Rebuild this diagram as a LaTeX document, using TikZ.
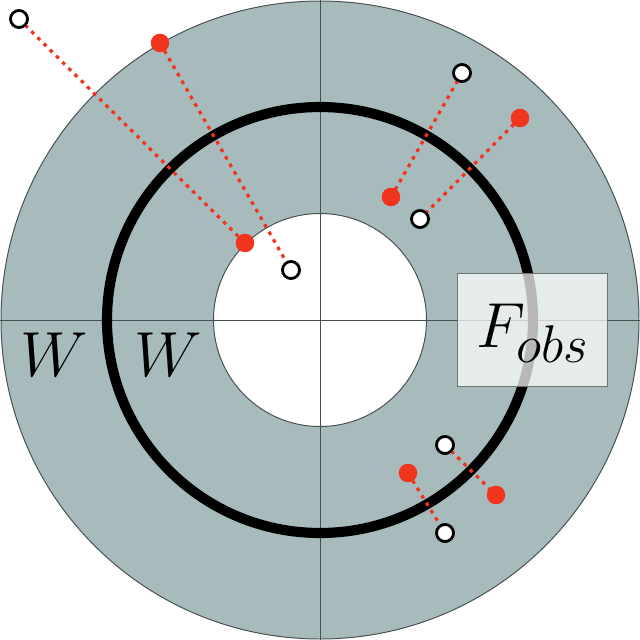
\documentclass[tikz,border=0pt]{standalone}
\usetikzlibrary{calc}
\definecolor{ringgray}{RGB}{168,187,188}
\definecolor{edgegray}{RGB}{70,80,80}
\definecolor{dotred}{RGB}{240,52,30}
\newcommand{\bigmath}[1]{\scalebox{1.82}{\Huge$#1$}}
\begin{document}
\begin{tikzpicture}[x=0.025cm,y=-0.025cm,
  opendot/.style={circle,draw=black,fill=white,line width=1.9pt,minimum size=12pt,inner sep=0pt},
  reddot/.style={circle,fill=dotred,minimum size=13pt,inner sep=0pt},
  link/.style={dotred,line width=2.3pt,dash pattern=on 2.6pt off 3.6pt},
  bigtext/.style={inner sep=0pt}]
\useasboundingbox (0,0) rectangle (640,640);
\coordinate (c) at (320,320);
\fill[ringgray,draw=edgegray,line width=0.7pt] (c) circle[radius=319];
\fill[white,draw=edgegray,line width=0.7pt] (c) circle[radius=106.5];
\coordinate (xl) at (0,320);
\coordinate (xr) at (640,320);
\coordinate (yt) at (320,0);
\coordinate (yb) at (320,640);
\draw[edgegray,line width=0.7pt] (xl) -- (xr);
\draw[edgegray,line width=0.7pt] (yt) -- (yb);
\draw[black,line width=7.2pt] (c) circle[radius=213];
% points
\node[opendot] (a1) at (19,19) {};
\node[reddot] (b1) at (245,243) {};
\node[reddot] (b2) at (160,43) {};
\node[opendot] (a2) at (291,270) {};
\node[opendot] (a3) at (462,73) {};
\node[reddot] (b3) at (391,197) {};
\node[reddot] (b4) at (520,118) {};
\node[opendot] (a4) at (420,219) {};
\node[opendot] (a5) at (445,445) {};
\node[reddot] (b5) at (496,495) {};
\node[reddot] (b6) at (408,473) {};
\node[opendot] (a6) at (445,533) {};
\draw[link] (a1.center) -- (b1.center);
\draw[link] (b2.center) -- (a2.center);
\draw[link] (a3.center) -- (b3.center);
\draw[link] (b4.center) -- (a4.center);
\draw[link] (a5.center) -- (b5.center);
\draw[link] (b6.center) -- (a6.center);
\node[opendot] at (a1) {};
\node[reddot] at (b1) {};
\node[reddot] at (b2) {};
\node[opendot] at (a2) {};
\node[opendot] at (a3) {};
\node[reddot] at (b3) {};
\node[reddot] at (b4) {};
\node[opendot] at (a4) {};
\node[opendot] at (a5) {};
\node[reddot] at (b5) {};
\node[reddot] at (b6) {};
\node[opendot] at (a6) {};
% obstacle box
\coordinate (fb1) at (457,273);
\coordinate (fb2) at (607,386);
\fill[white,fill opacity=0.72] (fb1) rectangle (fb2);
\draw[edgegray!80,line width=0.6pt] (fb1) rectangle (fb2);
\node[bigtext] (fobs) at (533,333) {\bigmath{F_{obs}}};
\node[bigtext] (w1) at (54,355) {\bigmath{W}};
\node[bigtext] (w2) at (168,355) {\bigmath{W}};
\end{tikzpicture}
\end{document}
